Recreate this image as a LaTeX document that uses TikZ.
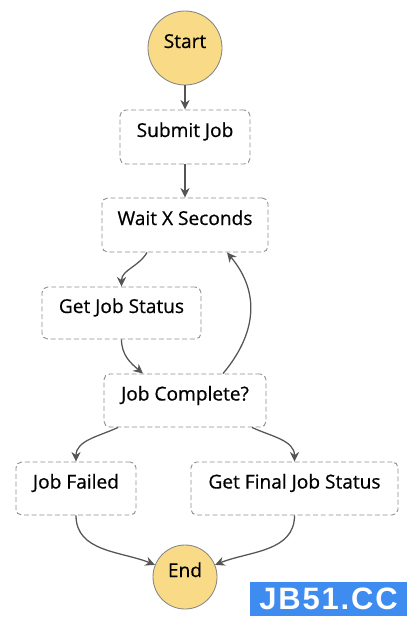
\documentclass[tikz,border=0pt]{standalone}
\usepackage{fontspec}
\setmainfont{Open Sans}
\newfontfamily\statefont[FakeBold=0.6]{Open Sans}
\newfontfamily\markfont[LetterSpace=6]{Liberation Sans}
\usepackage{xcolor}
\usetikzlibrary{calc, arrows.meta}

\definecolor{stategold}{HTML}{F8DA87}
\definecolor{ringgray}{HTML}{858585}
\definecolor{boxgray}{HTML}{8E8E8E}
\definecolor{flowgray}{HTML}{555555}
\definecolor{markblue}{HTML}{3F8CF0}

\tikzset{
  terminal/.style = {circle, draw = ringgray, fill = stategold, line width = 0.6pt,
    font = \statefont\fontsize{13.6}{15}\selectfont, text height = 8pt, text depth = 8pt},
  task/.style = {rectangle, rounded corners = 4pt, draw = boxgray, dashed,
    dash pattern = on 3.5pt off 2pt, line width = 0.65pt, inner sep = 0pt,
    font = \statefont\fontsize{13.6}{15}\selectfont, text height = 8pt, text depth = 8pt},
  flow/.style = {-{Stealth[length = 2.4mm, width = 2.3mm]}, draw = flowgray, line width = 0.9pt}
}

\begin{document}
\begin{tikzpicture}
	\useasboundingbox (0,0) rectangle (10.45,-15.65);
	\def\midx{4.625};

	\node [terminal, minimum size = 1.85cm] (start) at (\midx,-1.2) {Start};
	\node [task, minimum width = 3.25cm, minimum height = 1.35cm] (submit) at (\midx,-3.425) {Submit Job};
	\node [task, minimum width = 4.15cm, minimum height = 1.35cm] (wait) at (\midx,-5.625) {Wait X Seconds};
	\node [task, minimum width = 3.975cm, minimum height = 1.3cm] (status) at (3.0375,-7.825) {Get Job Status};
	\node [task, minimum width = 4.05cm, minimum height = 1.325cm] (complete) at (\midx,-10.0125) {Job Complete?};
	\node [task, minimum width = 3cm, minimum height = 1.325cm] (failed) at (1.9,-12.2125) {Job Failed};
	\node [task, minimum width = 5.175cm, minimum height = 1.325cm] (final) at (7.3625,-12.2125) {Get Final Job Status};
	\node [terminal, minimum size = 1.6cm] (end) at (\midx,-14.425) {End};

	\draw [flow] (start) -- (submit);
	\draw [flow] (submit) -- (wait);
	\draw [flow] ([xshift = -0.95cm]wait.south) to [out = 240, in = 90] (status.north);
	\draw [flow] (status.south) to [out = -90, in = 140] ([xshift = -1.05cm]complete.north);
	\draw [flow] ([xshift = 0.95cm]complete.north) to [out = 50, in = -50, looseness = 1.1] ([xshift = 1.05cm]wait.south);
	\draw [flow] ([xshift = -1.675cm]complete.south) to [out = -155, in = 90] (failed.north);
	\draw [flow] ([xshift = 1.675cm]complete.south) to [out = -25, in = 90] (final.north);
	\draw [flow] (failed.south) to [out = -90, in = 158] (end.158);
	\draw [flow] (final.south) to [out = -90, in = 22] (end.22);

	\node [fill = markblue, minimum width = 3.925cm, minimum height = 0.85cm, inner sep = 0pt,
		text = white, font = \markfont\bfseries\fontsize{22}{22}\selectfont] (mark) at (8.2125,-14.975) {JB51.CC};
\end{tikzpicture}
\end{document}
